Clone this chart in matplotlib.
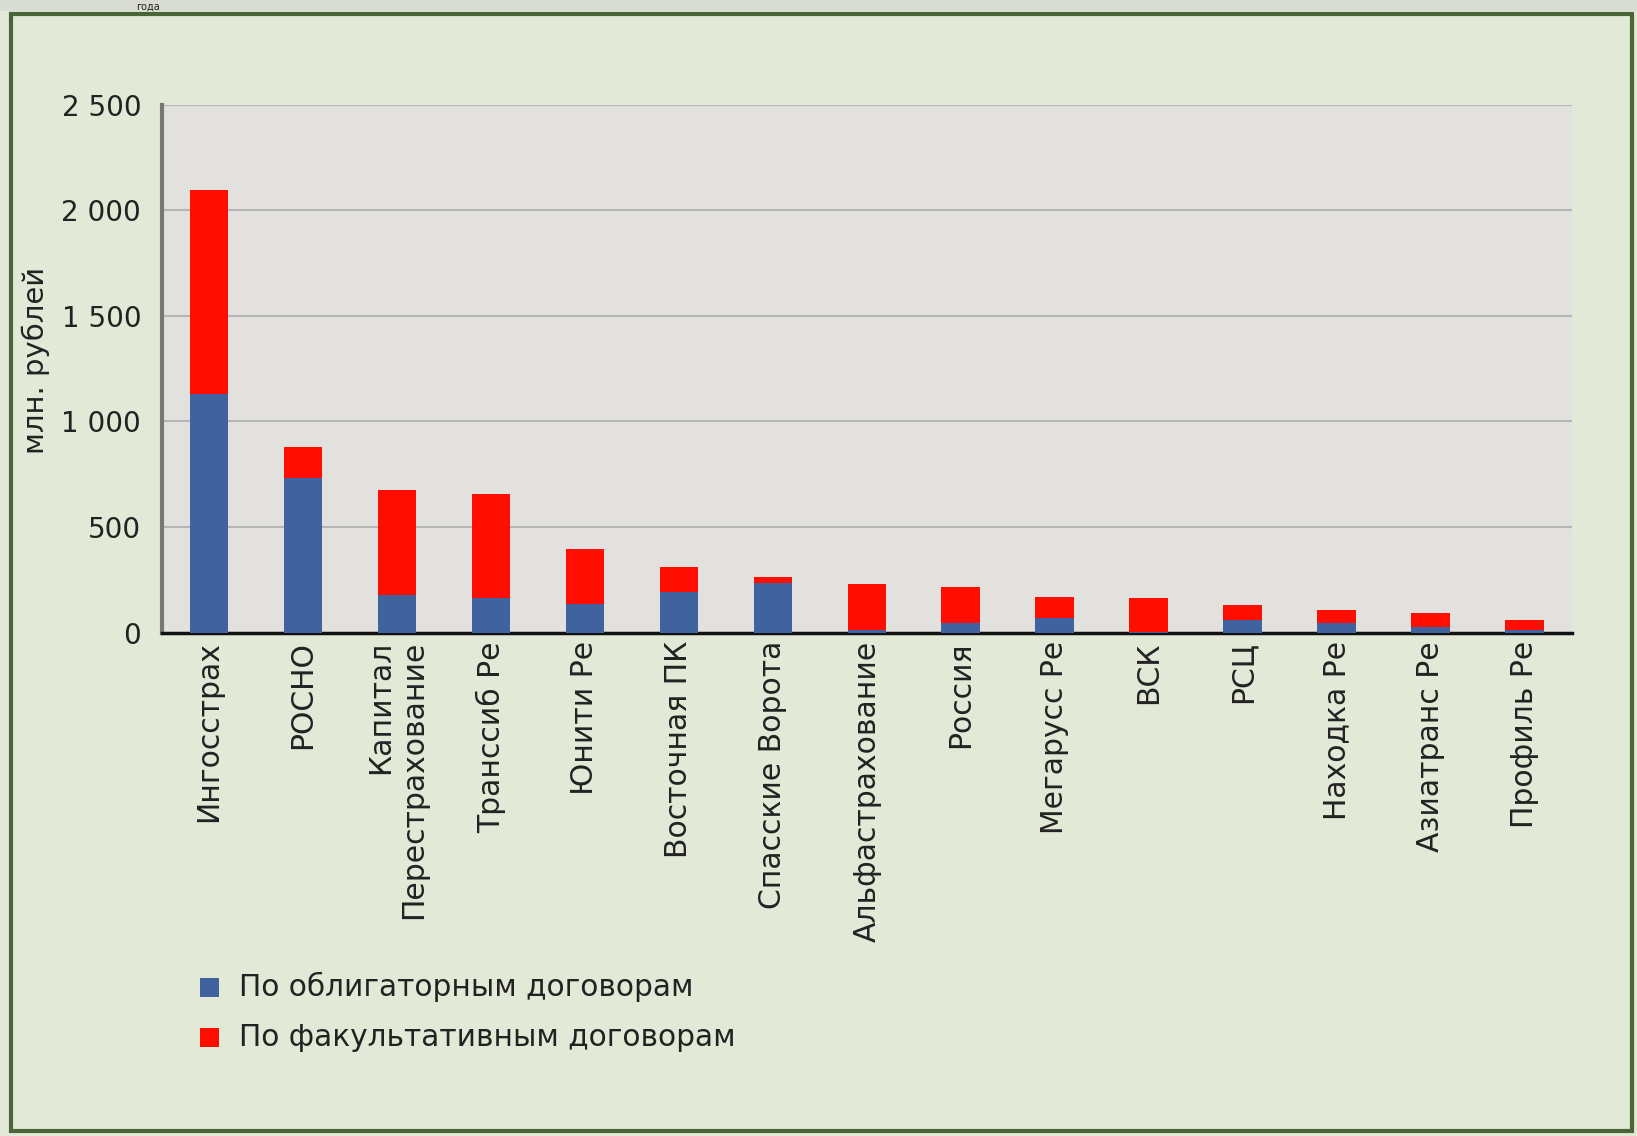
import matplotlib
matplotlib.use("Agg")
import matplotlib.pyplot as plt
from matplotlib.patches import Rectangle
import numpy as np

companies = [
    "Ингосстрах", "РОСНО", "Капитал\nПерестрахование", "Транссиб Ре",
    "Юнити Ре", "Восточная ПК", "Спасские Ворота", "Альфастрахование",
    "Россия", "Мегарусс Ре", "ВСК", "РСЦ", "Находка Ре", "Азиатранс Ре",
    "Профиль Ре",
]
# млн. рублей
obligatory = [1130, 733, 178, 165, 138, 195, 235, 12, 46, 70, 3, 62, 44, 28, 15]
totals = [2094, 878, 674, 655, 398, 310, 266, 232, 218, 168, 163, 132, 106, 92, 61]
facultative = [t - o for t, o in zip(totals, obligatory)]

series_labels = ["По облигаторным договорам", "По факультативным договорам"]
yticks = [0, 500, 1000, 1500, 2000, 2500]
ytick_labels = ["0", "500", "1 000", "1 500", "2 000", "2 500"]

BLUE = "#40629f"
RED = "#ff0d00"
TXT = "#222222"

fig = plt.figure(figsize=(16.37, 11.36), dpi=100, facecolor="#e2e9d6")
# strip above the frame and the outer frame
fig.patches.append(Rectangle((0, 0.99), 1, 0.01, transform=fig.transFigure,
                             facecolor="#d9dcd3", edgecolor="none"))
fig.patches.append(Rectangle((0.007, 0.004), 0.99, 0.984, transform=fig.transFigure,
                             fill=False, edgecolor="#4c6538", lw=3))
# remains of the slide title, squeezed into the strip above the frame
fig.text(0.083, 0.9985, "года", fontsize=7, color=TXT, ha="left", va="top")

ax = fig.add_axes([0.099, 0.443, 0.861, 0.465])
ax.set_facecolor("#e2e1dd")

x = np.arange(len(companies))
ax.bar(x, obligatory, width=0.41, color=BLUE, zorder=3)
ax.bar(x, facultative, width=0.41, bottom=obligatory, color=RED, zorder=3)

ax.set_xlim(-0.5, len(companies) - 0.5)
ax.set_ylim(0, 2500)
ax.set_yticks(yticks)
ax.set_yticklabels(ytick_labels, fontsize=20, color=TXT)
ax.set_xticks(x)
ax.set_xticklabels(companies, rotation=90, fontsize=21.5, color=TXT)
for lab in ax.get_xticklabels():
    lab.set_multialignment("right")
ax.tick_params(axis="y", length=0, pad=15)
ax.tick_params(axis="x", length=0, pad=6)

ax.grid(axis="y", color="#b5b5b5", lw=1.5, zorder=1)
for s in ("top", "right"):
    ax.spines[s].set_visible(False)
ax.spines["left"].set_color("#777777")
ax.spines["left"].set_linewidth(3)
ax.spines["bottom"].set_color("#111111")
ax.spines["bottom"].set_linewidth(2.5)

fig.text(0.022, 0.683, "млн. рублей", rotation=90, fontsize=21, color=TXT,
         ha="center", va="center")

# legend
for i, (lab, col) in enumerate(zip(series_labels, [BLUE, RED])):
    yy = 0.131 - i * 0.044
    fig.patches.append(Rectangle((0.122, yy - 0.009), 0.012, 0.017,
                                 transform=fig.transFigure, facecolor=col,
                                 edgecolor="none"))
    fig.text(0.146, yy, lab, fontsize=21.3, color=TXT, va="center", ha="left")

fig.savefig("out.png", dpi=100, facecolor=fig.get_facecolor())
